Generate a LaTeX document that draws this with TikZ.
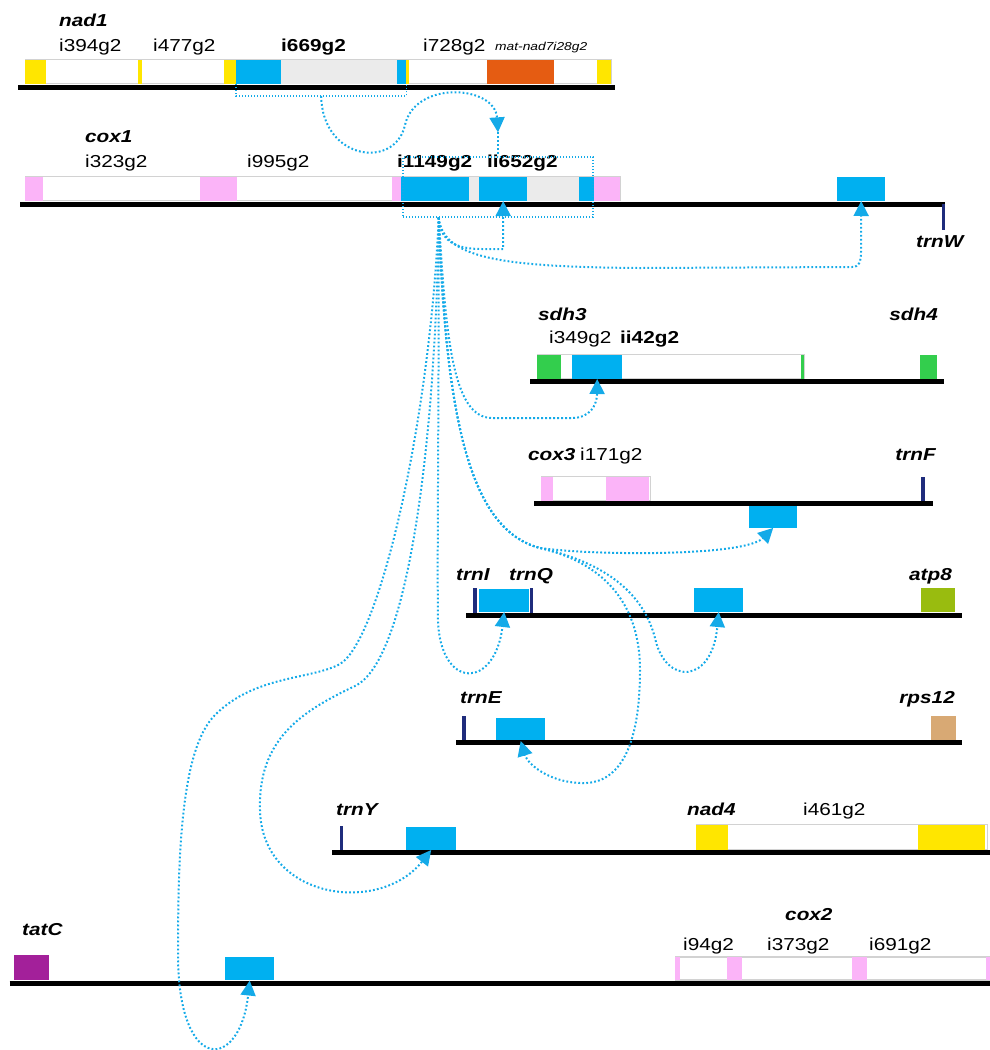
\documentclass[tikz,border=0pt]{standalone}
\usepackage{fontspec}
\setmainfont[FakeStretch=1.2]{Liberation Sans}
\usetikzlibrary{
  arrows.meta,
  calc
}
\definecolor{exblue}{RGB}{0,176,240}
\definecolor{linkblue}{RGB}{20,170,232}
\definecolor{exyellow}{RGB}{255,230,0}
\definecolor{exorange}{RGB}{229,92,18}
\definecolor{expink}{RGB}{251,180,248}
\definecolor{exgreen}{RGB}{51,206,77}
\definecolor{trnablue}{RGB}{31,44,124}
\definecolor{atpgreen}{RGB}{153,188,15}
\definecolor{rpstan}{RGB}{216,169,116}
\definecolor{tatpurple}{RGB}{163,32,154}
\definecolor{introngray}{RGB}{235,235,235}
\definecolor{boxgray}{RGB}{210,210,210}

\begin{document}
\begin{tikzpicture}[x=1pt,y=-1pt,
      seg/.style={
         rectangle,
         inner sep=0pt,
         minimum height=24pt,
         anchor=south west
      },
      gene/.style={seg,draw=boxgray,line width=1.2pt,fill=white},
      exon/.style={seg,fill=#1},
      trna/.style={
         rectangle,inner sep=0pt,
         minimum width=3.5pt,minimum height=24pt,
         fill=trnablue,anchor=south
      },
      chrom/.style={line width=5pt,black},
      gname/.style={font=\fontsize{17.3}{20}\selectfont\bfseries\itshape,anchor=base west,inner sep=0pt},
      intron/.style={font=\fontsize{17.3}{20}\selectfont,anchor=base west,inner sep=0pt},
      link/.style={draw=linkblue,line width=2pt,dash pattern=on 1.8pt off 2.2pt},
      grpbox/.style={draw=linkblue,line width=1.3pt,dash pattern=on 1.4pt off 1.6pt},
      tip/.style={->},>={Triangle[width=15pt,length=15pt]}
    ]
    \useasboundingbox (0,0) rectangle (990,1050);

    % nad1
    \node[gene,minimum width=586pt] (nad1) at (25,84) {};
    \node[exon=exyellow,minimum width=21pt] (nad1e1) at (25,84) {};
    \node[exon=exyellow,minimum width=4pt] (nad1e2) at (138,84) {};
    \node[exon=exyellow,minimum width=12pt] (nad1e3) at (224,84) {};
    \node[exon=exblue,minimum width=45pt] (nad1e4) at (236,84) {};
    \node[exon=introngray,minimum width=116pt] (i669) at (281,84) {};
    \node[exon=exblue,minimum width=9pt] (nad1e5) at (397,84) {};
    \node[exon=exyellow,minimum width=3pt] (nad1e6) at (406,84) {};
    \node[exon=exorange,minimum width=67pt] (mat) at (487,84) {};
    \node[exon=exyellow,minimum width=14pt] (nad1e7) at (597,84) {};
    \draw[chrom] (18,87) -- (615,87);
    \node[gname] (tnad1) at (59,26) {nad1};
    \node[intron] (ti394) at (59,51.7) {i394g2};
    \node[intron] (ti477) at (153,51.7) {i477g2};
    \node[intron,font=\fontsize{17.3}{20}\selectfont\bfseries] (ti669) at (281,51.7) {i669g2};
    \node[intron] (ti728) at (423,51.7) {i728g2};
    \node[intron,font=\fontsize{11.5}{13}\selectfont\itshape] (tmat) at (495,50) {mat-nad7i28g2};

    % cox1
    \node[gene,minimum width=595pt] (cox1) at (25,201) {};
    \node[exon=expink,minimum width=18pt] (cox1e1) at (25,201) {};
    \node[exon=expink,minimum width=37pt] (cox1e2) at (200,201) {};
    \node[exon=expink,minimum width=9pt] (cox1e3) at (392,201) {};
    \node[exon=exblue,minimum width=68pt] (i1149) at (401,201) {};
    \node[exon=introngray,minimum width=10pt] (cox1i1) at (469,201) {};
    \node[exon=exblue,minimum width=48pt] (ii652) at (479,201) {};
    \node[exon=introngray,minimum width=52pt] (cox1i2) at (527,201) {};
    \node[exon=exblue,minimum width=15pt] (cox1e4) at (579,201) {};
    \node[exon=expink,minimum width=26pt] (cox1e5) at (594,201) {};
    \node[exon=exblue,minimum width=48pt] (cox1b) at (837,201) {};
    \draw[chrom] (20,204) -- (945,204);
    \node[trna,anchor=north,minimum width=3pt,minimum height=26pt] (trnW) at (943,204) {};
    \node[gname] (tcox1) at (85,142) {cox1};
    \node[intron] (ti323) at (85,167.5) {i323g2};
    \node[intron] (ti995) at (247,167.5) {i995g2};
    \node[intron,font=\fontsize{17.3}{20}\selectfont\bfseries] (ti1149) at (397,167.5) {i1149g2};
    \node[intron,font=\fontsize{17.3}{20}\selectfont\bfseries] (tii652) at (487,167.5) {ii652g2};
    \node[gname] (ttrnW) at (916,247) {trnW};
    \node[grpbox,rectangle,minimum width=190pt,minimum height=60pt] (cox1grp) at (498,187) {};

    % sdh3 / sdh4
    \node[gene,minimum width=267pt] (sdh3) at (537,379) {};
    \node[exon=exgreen,minimum width=24pt] (sdh3e1) at (537,379) {};
    \node[exon=exblue,minimum width=50pt] (ii42) at (572,379) {};
    \node[exon=exgreen,minimum width=3pt] (sdh3e2) at (801,379) {};
    \node[exon=exgreen,minimum width=17pt] (sdh4) at (920,379) {};
    \draw[chrom] (530,381.5) -- (944,381.5);
    \node[gname] (tsdh3) at (538,320) {sdh3};
    \node[intron] (ti349) at (549,343) {i349g2};
    \node[intron,font=\fontsize{17.3}{20}\selectfont\bfseries] (tii42) at (620,343) {ii42g2};
    \node[gname,anchor=base east] (tsdh4) at (938,320) {sdh4};

    % cox3 / trnF
    \node[gene,minimum width=109pt] (cox3) at (541,501) {};
    \node[exon=expink,minimum width=12pt] (cox3e1) at (541,501) {};
    \node[exon=expink,minimum width=43pt] (cox3e2) at (606,501) {};
    \node[trna] (trnF) at (923,501) {};
    \node[exon=exblue,anchor=north west,minimum width=48pt,minimum height=22pt] (cox3b) at (749,505.5) {};
    \draw[chrom] (534,503.5) -- (933,503.5);
    \node[gname] (tcox3) at (528,460) {cox3};
    \node[intron] (ti171) at (580,460) {i171g2};
    \node[gname,anchor=base east] (ttrnF) at (936,460) {trnF};

    % trnI / trnQ / atp8
    \node[trna,minimum height=25pt] (trnI) at (475,613) {};
    \node[exon=exblue,minimum width=50pt,minimum height=23pt] (trnIb) at (479,612) {};
    \node[trna,minimum height=25pt] (trnQ) at (531.5,613) {};
    \node[exon=exblue,minimum width=49pt] (atp8b) at (694,612) {};
    \node[exon=atpgreen,minimum width=34pt] (atp8) at (921,612) {};
    \draw[chrom] (466,615) -- (962,615);
    \node[gname] (ttrnI) at (456,580) {trnI};
    \node[gname] (ttrnQ) at (509,580) {trnQ};
    \node[gname,anchor=base east] (tatp8) at (952,580) {atp8};

    % trnE / rps12
    \node[trna,minimum height=25pt] (trnE) at (464,741) {};
    \node[exon=exblue,minimum width=49pt,minimum height=23pt] (trnEb) at (496,741) {};
    \node[exon=rpstan,minimum width=25pt,minimum height=25pt] (rps12) at (931,741) {};
    \draw[chrom] (456,742.5) -- (962,742.5);
    \node[gname] (ttrnE) at (460,703) {trnE};
    \node[gname,anchor=base east] (trps12) at (955,703) {rps12};

    % trnY / nad4
    \node[trna] (trnY) at (341.5,850) {};
    \node[exon=exblue,minimum width=50pt,minimum height=23pt] (trnYb) at (406,850) {};
    \node[gene,minimum width=291pt,minimum height=25pt] (nad4) at (696,850) {};
    \node[exon=exyellow,minimum width=32pt,minimum height=25pt] (nad4e1) at (696,850) {};
    \node[exon=exyellow,minimum width=67pt,minimum height=25pt] (nad4e2) at (918,850) {};
    \draw[chrom] (332,852) -- (992,852);
    \node[gname] (ttrnY) at (336,815) {trnY};
    \node[gname] (tnad4) at (687,815) {nad4};
    \node[intron] (ti461) at (803,815) {i461g2};

    % tatC / cox2
    \node[exon=tatpurple,minimum width=35pt,minimum height=25pt] (tatC) at (14,980.5) {};
    \node[exon=exblue,minimum width=49pt,minimum height=23pt] (tatCb) at (225,980.5) {};
    \node[gene,minimum width=320pt,minimum height=23pt] (cox2) at (675,980.5) {};
    \node[exon=expink,minimum width=5pt,minimum height=23pt] (cox2e1) at (675,980.5) {};
    \node[exon=expink,minimum width=15pt,minimum height=23pt] (cox2e2) at (727,980.5) {};
    \node[exon=expink,minimum width=15pt,minimum height=23pt] (cox2e3) at (852,980.5) {};
    \node[exon=expink,minimum width=6pt,minimum height=23pt] (cox2e4) at (986,980.5) {};
    \draw[chrom] (9.5,983) -- (992,983);
    \node[gname] (ttatC) at (22,935) {tatC};
    \node[gname] (tcox2) at (785,920) {cox2};
    \node[intron] (ti94) at (683,950) {i94g2};
    \node[intron] (ti373) at (767,950) {i373g2};
    \node[intron] (ti691) at (869,950) {i691g2};

    % nad1 i669g2 -> cox1
    \draw[grpbox] (nad1e4.south west) -- ++(0,12) -| (nad1e5.south east);
    \coordinate (src1) at ($(nad1e4.south west)!0.5!(nad1e5.south east)+(0,12)$);
    \coordinate (cox1in) at ($(cox1grp.north)+(0,-24)$);
    \draw[link,tip] (src1) .. controls (322,160) and (395,170) .. (405,125)
                           .. controls (415,80) and (495,85) .. (cox1in);
    \draw[link] (cox1in) -- (cox1grp.north);

    % cox1 i1149g2/ii652g2 -> targets
    \coordinate (src2) at ($(cox1grp.south west)!0.19!(cox1grp.south east)$);
    \draw[link,tip] (src2) .. controls (440,245) and (462,249) .. (482,249) -| (ii652.south);
    \draw[link,tip] (src2) .. controls (443,258) and (500,267) .. (640,268) -- (852,267)
                           .. controls (859,267) and (861,262) .. (861,252) -- (cox1b.south);
    \draw[link,tip] (src2) .. controls (446,335) and (452,418) .. (492,418) -- (572,418)
                           .. controls (590,418) and (597,405) .. (ii42.south);
    \draw[link,tip] (src2) .. controls (446,420) and (470,530) .. (540,548)
                           .. controls (600,556) and (745,556) .. (cox3b.south);
    \draw[link,tip] (src2) .. controls (439,400) and (437,560) .. (438,620)
                           .. controls (440,690) and (495,690) .. (trnIb.south);
    \draw[link,tip] (src2) .. controls (446,420) and (470,530) .. (540,548)
                           .. controls (615,565) and (645,600) .. (655,638)
                           .. controls (665,685) and (712,685) .. (atp8b.south);
    \draw[link,tip] (src2) .. controls (446,420) and (470,530) .. (540,548)
                           .. controls (600,562) and (640,600) .. (640,670)
                           .. controls (640,760) and (612,785) .. (580,783)
                           .. controls (550,782) and (528,765) .. (trnEb.south);
    \draw[link,tip] (src2) .. controls (436,430) and (410,660) .. (355,686)
                           .. controls (300,712) and (258,740) .. (260,810)
                           .. controls (262,900) and (380,915) .. (trnYb.south);
    \draw[link,tip] (src2) .. controls (430,420) and (380,640) .. (340,664)
                           .. controls (310,680) and (255,675) .. (215,715)
                           .. controls (180,750) and (178,860) .. (178,960)
                           .. controls (180,1075) and (240,1070) .. (tatCb.south);
\end{tikzpicture}
\end{document}
